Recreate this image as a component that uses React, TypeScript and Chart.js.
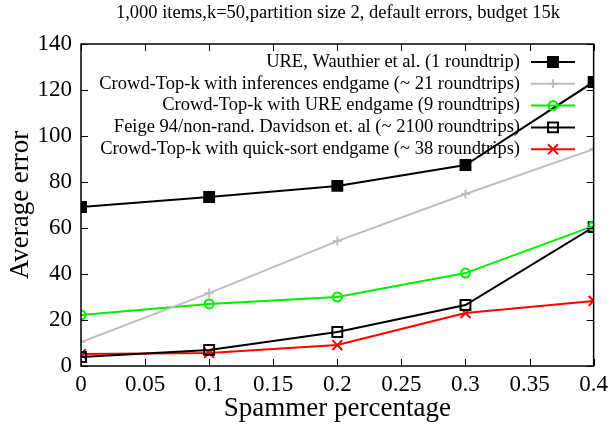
import React, { useEffect, useRef } from "react";
import { Chart, registerables } from "chart.js";

Chart.register(...registerables);

const xValues = [0, 0.1, 0.2, 0.3, 0.4];
const ureValues = [69.1, 73.5, 78.3, 87.4, 123.5];
const inferenceValues = [10.4, 31.7, 54.3, 74.8, 94.3];
const ureEndgameValues = [22.2, 27, 30, 40.4, 60.9];
const feigeValues = [3.9, 7, 14.8, 26.5, 60.4];
const quickSortValues = [5.2, 5.7, 9.1, 23, 28.3];

const seriesLabels = [
  "URE, Wauthier et al. (1 roundtrip)",
  "Crowd-Top-k with inferences endgame (~ 21 roundtrips)",
  "Crowd-Top-k with URE endgame (9 roundtrips)",
  "Feige 94/non-rand. Davidson et. al (~ 2100 roundtrips)",
  "Crowd-Top-k with quick-sort endgame (~ 38 roundtrips)",
];
const titleText = "1,000 items,k=50,partition size 2, default errors, budget 15k";
const xTitle = "Spammer percentage";
const yTitle = "Average error";

const SERIF = "'Liberation Serif', 'DejaVu Serif', serif";

const toPoints = (ys: number[]) => ys.map((y, i) => ({ x: xValues[i], y }));

function drawMarker(ctx: any, ds: any, x: number, y: number) {
  const r = ds.pointRadius;
  ctx.save();
  ctx.strokeStyle = ds.pointBorderColor;
  ctx.fillStyle = ds.pointBackgroundColor;
  ctx.lineWidth = ds.pointBorderWidth;
  ctx.beginPath();
  switch (ds.pointStyle) {
    case "rect": {
      const s = r * Math.SQRT1_2;
      ctx.rect(x - s, y - s, 2 * s, 2 * s);
      ctx.fill();
      ctx.stroke();
      break;
    }
    case "circle":
      ctx.arc(x, y, r, 0, Math.PI * 2);
      ctx.fill();
      ctx.stroke();
      break;
    case "cross":
      ctx.moveTo(x, y - r);
      ctx.lineTo(x, y + r);
      ctx.moveTo(x - r, y);
      ctx.lineTo(x + r, y);
      ctx.stroke();
      break;
    case "crossRot": {
      const o = r * Math.SQRT1_2;
      ctx.moveTo(x - o, y - o);
      ctx.lineTo(x + o, y + o);
      ctx.moveTo(x + o, y - o);
      ctx.lineTo(x - o, y + o);
      ctx.stroke();
      break;
    }
  }
  ctx.restore();
}

const decorPlugin = {
  id: "decor",
  afterDraw(chart: any) {
    const ctx = chart.ctx;
    const { left, right, top, bottom } = chart.chartArea;
    ctx.save();
    // title
    ctx.fillStyle = "#000";
    ctx.font = `18.5px ${SERIF}`;
    ctx.textAlign = "center";
    ctx.textBaseline = "middle";
    ctx.fillText(titleText, 338, 13);
    // box
    ctx.strokeStyle = "#000";
    ctx.lineWidth = 1.5;
    ctx.strokeRect(left, top, right - left, bottom - top);
    // inward ticks
    const tl = 7;
    ctx.lineWidth = 1;
    const xs = chart.scales.x;
    xs.ticks.forEach((t: any) => {
      const px = Math.round(xs.getPixelForValue(t.value)) + 0.5;
      ctx.beginPath();
      ctx.moveTo(px, bottom);
      ctx.lineTo(px, bottom - tl);
      ctx.moveTo(px, top);
      ctx.lineTo(px, top + tl);
      ctx.stroke();
    });
    const ys = chart.scales.y;
    ys.ticks.forEach((t: any) => {
      const py = Math.round(ys.getPixelForValue(t.value)) + 0.5;
      ctx.beginPath();
      ctx.moveTo(left, py);
      ctx.lineTo(left + tl, py);
      ctx.moveTo(right, py);
      ctx.lineTo(right - tl, py);
      ctx.stroke();
    });
    // legend
    ctx.font = `18.5px ${SERIF}`;
    ctx.textAlign = "right";
    ctx.textBaseline = "middle";
    chart.data.datasets.forEach((ds: any, i: number) => {
      const y = 62 + i * 21.8;
      ctx.fillStyle = "#000";
      ctx.fillText(ds.label, 520, y);
      ctx.strokeStyle = ds.borderColor;
      ctx.lineWidth = ds.borderWidth;
      ctx.beginPath();
      ctx.moveTo(531, y);
      ctx.lineTo(575, y);
      ctx.stroke();
      drawMarker(ctx, ds, 553, y);
    });
    ctx.restore();
  },
};

export default function App() {
  const ref = useRef<HTMLCanvasElement | null>(null);
  useEffect(() => {
    if (!ref.current) return;
    const mk = (
      label: string,
      data: number[],
      color: string,
      style: string,
      radius: number,
      fill: string
    ) => ({
      label,
      data: toPoints(data),
      borderColor: color,
      backgroundColor: color,
      borderWidth: 2,
      pointStyle: style,
      pointRadius: radius,
      pointHoverRadius: radius,
      pointBorderColor: color,
      pointBackgroundColor: fill,
      pointBorderWidth: 2,
      tension: 0,
    });
    const chart = new Chart(ref.current, {
      type: "line",
      data: {
        datasets: [
          mk(seriesLabels[0], ureValues, "#000000", "rect", 7, "#000000"),
          mk(seriesLabels[1], inferenceValues, "#bebebe", "cross", 4.5, "#bebebe"),
          mk(seriesLabels[2], ureEndgameValues, "#00ee00", "circle", 4.5, "rgba(0,0,0,0)"),
          mk(seriesLabels[3], feigeValues, "#000000", "rect", 7, "rgba(0,0,0,0)"),
          mk(seriesLabels[4], quickSortValues, "#ff0000", "crossRot", 7, "#ff0000"),
        ] as any,
      },
      options: {
        animation: false,
        responsive: false,
        layout: { padding: { top: 44, right: 19, left: 0, bottom: 0 } },
        plugins: {
          legend: { display: false },
          title: { display: false },
          tooltip: { enabled: false },
        },
        scales: {
          x: {
            type: "linear",
            min: 0,
            max: 0.4,
            ticks: {
              stepSize: 0.05,
              color: "#000",
              font: { family: SERIF, size: 23 },
              padding: 5,
              maxRotation: 0,
              callback: (v: any) => String(Math.round(Number(v) * 100) / 100),
            },
            grid: { display: false, drawTicks: false },
            border: { display: false },
            title: {
              display: true,
              text: xTitle,
              color: "#000",
              font: { family: SERIF, size: 27 },
              padding: { top: 0, bottom: 3 },
            },
            afterFit: (s: any) => {
              s.height = 62;
            },
          },
          y: {
            min: 0,
            max: 140,
            ticks: {
              stepSize: 20,
              color: "#000",
              font: { family: SERIF, size: 23 },
              padding: 9,
            },
            grid: { display: false, drawTicks: false },
            border: { display: false },
            title: {
              display: true,
              text: yTitle,
              color: "#000",
              font: { family: SERIF, size: 27 },
              padding: { top: 5, bottom: 0 },
            },
            afterFit: (s: any) => {
              s.width = 81;
            },
          },
        },
      },
      plugins: [decorPlugin],
    } as any);
    return () => chart.destroy();
  }, []);
  return (
    <div style={{ position: "absolute", left: 0, top: 0, width: 613, height: 428, background: "#fff" }}>
      <canvas ref={ref} width={613} height={428} style={{ width: 613, height: 428 }} />
    </div>
  );
}
